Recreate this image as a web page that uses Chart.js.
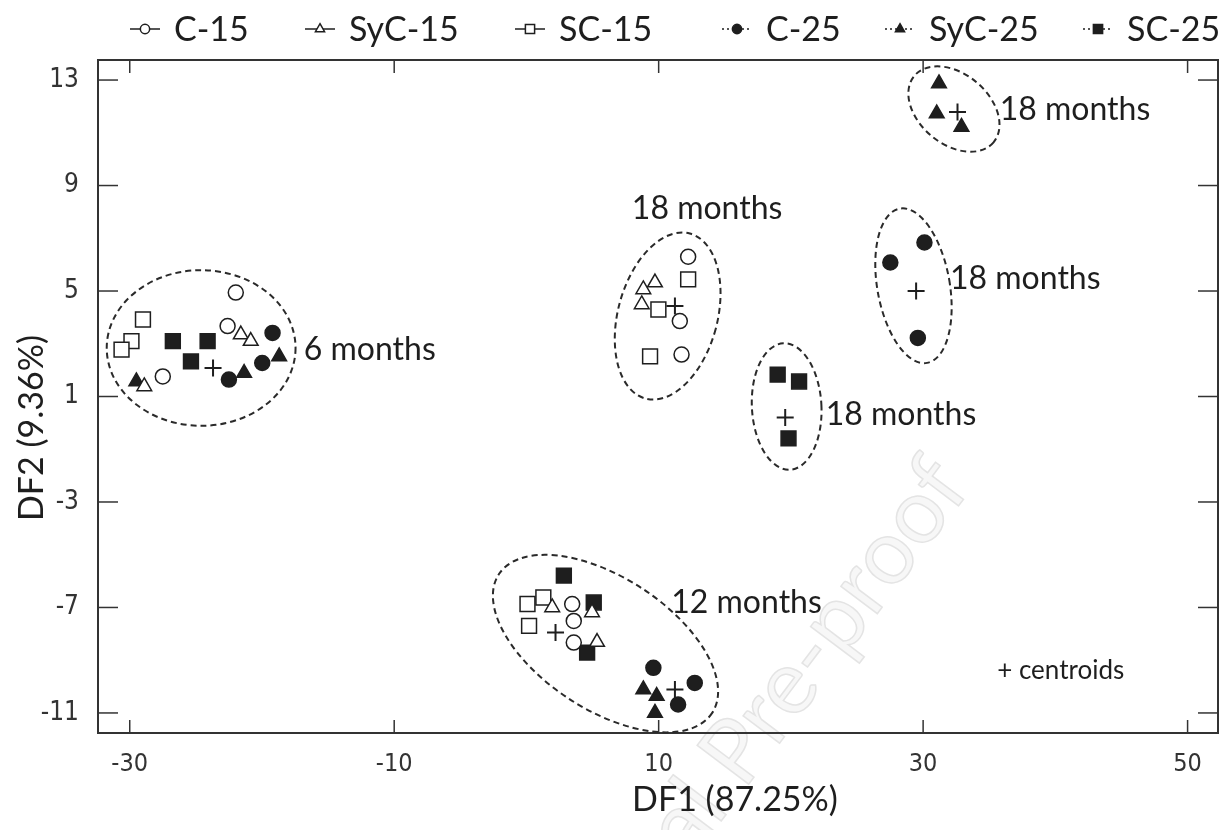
<!DOCTYPE html>
<html>
<head>
<meta charset="utf-8">
<script src="https://cdn.jsdelivr.net/npm/chart.js@4.4.1/dist/chart.umd.min.js"></script>
<style>
  html, body { margin: 0; padding: 0; background: #fff; }
  #wrap { width: 1230px; height: 830px; }
</style>
</head>
<body>
<div id="wrap"><canvas id="c" width="1230" height="830"></canvas></div>
<script>
// ── Datos (DF1, DF2) ────────────────────────────────────────────────
const c15   = [[-21.98, 4.94], [-22.6, 3.67], [-27.5, 1.76],
               [12.23, 6.30], [11.6, 3.86], [11.73, 2.59],
               [3.46, -6.87], [3.58, -7.51], [3.58, -8.33]];
const syc15 = [[-21.6, 3.35], [-20.85, 3.10], [-28.9, 1.38],
               [9.72, 5.32], [8.84, 5.06], [8.72, 4.49],
               [1.95, -7.0], [4.96, -7.19], [5.34, -8.31]];
const sc15  = [[-29.0, 3.92], [-29.87, 3.10], [-30.62, 2.78],
               [12.23, 5.44], [9.98, 4.30], [9.35, 2.52],
               [0.08, -6.87], [1.28, -6.62], [0.20, -7.70]];
const c25   = [[-19.2, 3.41], [-19.98, 2.27], [-22.5, 1.64],
               [9.6, -9.29], [12.73, -9.86], [11.47, -10.68],
               [30.1, 6.84], [27.52, 6.08], [29.6, 3.22]];
const syc25 = [[-29.5, 1.57], [-18.7, 2.52], [-21.35, 1.89],
               [8.84, -10.11], [9.85, -10.36], [9.72, -11.0],
               [31.2, 12.87], [31.03, 11.73], [32.9, 11.22]];
const sc25  = [[-26.74, 3.10], [-24.11, 3.10], [-25.37, 2.33],
               [2.83, -5.79], [5.09, -6.81], [4.59, -8.71],
               [19.0, 1.83], [20.62, 1.57], [19.82, -0.59]];
const centroids = [[-23.7, 2.08], [11.23, 4.43], [2.2, -7.95], [11.23, -10.11],
                   [32.6, 11.79], [29.47, 5.0], [19.57, 0.2]];

const seriesNames = ['C-15', 'SyC-15', 'SC-15', 'C-25', 'SyC-25', 'SC-25'];
const xTicks = [-30, -10, 10, 30, 50];
const yTicks = [-11, -7, -3, 1, 5, 9, 13];

// grupos (elipses) en unidades de datos: centro, radios, giro en grados
const groups = [
  { cx: -24.6, cy: 2.84, rx: 7.14, ry: 2.95, rot: 0 },
  { cx: 10.68, cy: 4.05, rx: 3.76, ry: 3.24, rot: 15 },
  { cx: 5.98, cy: -8.37, rx: 9.62, ry: 2.51, rot: 33 },
  { cx: 32.33, cy: 11.9, rx: 3.91, ry: 1.33, rot: 40 },
  { cx: 29.27, cy: 5.2, rx: 2.74, ry: 2.97, rot: -10 },
  { cx: 19.68, cy: 0.62, rx: 2.63, ry: 2.40, rot: -3 }
];
const groupLabels = [
  { text: '6 months',  x: -16.84, y: 2.79 },
  { text: '18 months', x: 7.97,   y: 8.12 },
  { text: '18 months', x: 35.79,  y: 11.86 },
  { text: '18 months', x: 32.03,  y: 5.46 },
  { text: '18 months', x: 22.63,  y: 0.31 },
  { text: '12 months', x: 10.95,  y: -6.81 }
];
const noteText = { text: '+ centroids', x: 35.6, y: -9.4 };

// ── Estilos ─────────────────────────────────────────────────────────
const INK = '#1e1e1e';
const TXT = "Lato, 'Open Sans', sans-serif";
const TICKFONT = "'Liberation Sans Narrow', 'DejaVu Sans Condensed', 'Liberation Sans', sans-serif";
const styles = [
  { pointStyle: 'circle',   radius: 7.5,  fill: '#fff' },
  { pointStyle: 'triangle', radius: 8.5,  fill: '#fff' },
  { pointStyle: 'rect',     radius: 10.5, fill: '#fff' },
  { pointStyle: 'circle',   radius: 7.5,  fill: INK },
  { pointStyle: 'triangle', radius: 8.5,  fill: INK },
  { pointStyle: 'rect',     radius: 10.5, fill: INK }
];
const legendX = [130, 305, 515, 722, 885, 1083];

const toXY = arr => arr.map(([x, y]) => ({ x, y }));
const allSeries = [c15, syc15, sc15, c25, syc25, sc25];

const datasets = allSeries.map((s, i) => ({
  label: seriesNames[i],
  data: toXY(s),
  pointStyle: styles[i].pointStyle,
  pointRadius: styles[i].radius,
  pointHoverRadius: styles[i].radius,
  pointBackgroundColor: styles[i].fill,
  pointBorderColor: INK,
  pointBorderWidth: 1.5
}));
datasets.push({
  label: 'centroids',
  data: toXY(centroids),
  pointStyle: 'cross',
  pointRadius: 8.5,
  pointHoverRadius: 8.5,
  pointBorderColor: INK,
  pointBorderWidth: 2
});

function seg(ctx, x1, y1, x2, y2) {
  ctx.beginPath(); ctx.moveTo(x1, y1); ctx.lineTo(x2, y2); ctx.stroke();
}

// ── Plugins ─────────────────────────────────────────────────────────
const frame = {
  id: 'frame',
  beforeDatasetsDraw(chart) {
    const { ctx, chartArea: a, scales: { x, y } } = chart;
    ctx.save();
    // marca de agua
    ctx.save();
    ctx.translate(948, 470);
    ctx.rotate(-53 * Math.PI / 180);
    ctx.font = `90px ${TXT}`;
    ctx.textAlign = 'right';
    ctx.textBaseline = 'alphabetic';
    ctx.fillStyle = '#f7f7f7';
    ctx.strokeStyle = '#e4e4e4';
    ctx.lineWidth = 1.5;
    ctx.fillText('Journal Pre-proof', 0, 30);
    ctx.strokeText('Journal Pre-proof', 0, 30);
    ctx.restore();

    ctx.strokeStyle = '#333';
    ctx.lineWidth = 2;
    ctx.strokeRect(a.left, a.top, a.right - a.left, a.bottom - a.top);
    ctx.lineWidth = 1.5;
    xTicks.forEach(v => {
      const px = x.getPixelForValue(v);
      seg(ctx, px, a.bottom, px, a.bottom - 13);
      seg(ctx, px, a.top, px, a.top + 13);
    });
    yTicks.forEach(v => {
      const py = y.getPixelForValue(v);
      seg(ctx, a.left, py, a.left + 20, py);
      seg(ctx, a.right, py, a.right - 20, py);
    });
    ctx.restore();
  }
};

const ellipses = {
  id: 'ellipses',
  beforeDatasetsDraw(chart) {
    const { ctx, scales: { x, y } } = chart;
    const sx = Math.abs(x.getPixelForValue(1) - x.getPixelForValue(0));
    const sy = Math.abs(y.getPixelForValue(1) - y.getPixelForValue(0));
    ctx.save();
    ctx.strokeStyle = '#2a2a2a';
    ctx.lineWidth = 2;
    ctx.setLineDash([6, 4]);
    groups.forEach(g => {
      ctx.beginPath();
      ctx.ellipse(x.getPixelForValue(g.cx), y.getPixelForValue(g.cy),
        g.rx * sx, g.ry * sy, g.rot * Math.PI / 180, 0, Math.PI * 2);
      ctx.stroke();
    });
    ctx.restore();
  }
};

const labels = {
  id: 'labels',
  afterDraw(chart) {
    const { ctx, scales: { x, y } } = chart;
    ctx.save();
    ctx.fillStyle = INK;
    ctx.textAlign = 'left';
    ctx.textBaseline = 'middle';
    ctx.font = `32px ${TXT}`;
    groupLabels.forEach(l => ctx.fillText(l.text, x.getPixelForValue(l.x), y.getPixelForValue(l.y)));
    ctx.font = `26px ${TXT}`;
    ctx.fillText(noteText.text, x.getPixelForValue(noteText.x), y.getPixelForValue(noteText.y));

    // títulos de ejes
    ctx.font = `34px ${TXT}`;
    ctx.textAlign = 'center';
    ctx.fillText('DF1 (87.25%)', 735, 800);
    ctx.translate(32, 428);
    ctx.rotate(-Math.PI / 2);
    ctx.fillText('DF2 (9.36%)', 0, 0);
    ctx.restore();
  }
};

const topLegend = {
  id: 'topLegend',
  afterDraw(chart) {
    const ctx = chart.ctx;
    const cy = 29;
    ctx.save();
    seriesNames.forEach((name, i) => {
      const x0 = legendX[i];
      ctx.strokeStyle = INK;
      ctx.lineWidth = 1.5;
      ctx.setLineDash(i < 3 ? [] : [2, 3]);
      seg(ctx, x0, cy, x0 + 30, cy);
      ctx.setLineDash([]);
      ctx.fillStyle = styles[i].fill;
      Chart.helpers.drawPoint(ctx, {
        pointStyle: styles[i].pointStyle,
        radius: styles[i].radius * 0.62,
        borderWidth: 1.5,
        rotation: 0
      }, x0 + 15, cy);
      ctx.fillStyle = INK;
      ctx.font = `34px ${TXT}`;
      ctx.textAlign = 'left';
      ctx.textBaseline = 'middle';
      ctx.fillText(name, x0 + 44, cy + 1);
    });
    ctx.restore();
  }
};

// ── Gráfico ─────────────────────────────────────────────────────────
new Chart(document.getElementById('c'), {
  type: 'scatter',
  data: { datasets },
  options: {
    responsive: false,
    animation: false,
    events: [],
    layout: { padding: { top: 60, right: 4, left: 0, bottom: 0 } },
    plugins: { legend: { display: false }, tooltip: { enabled: false } },
    scales: {
      x: {
        type: 'linear', min: -32.4, max: 52.3,
        grid: { display: false, drawTicks: false },
        border: { display: false },
        afterBuildTicks: s => { s.ticks = xTicks.map(v => ({ value: v })); },
        afterFit: s => { s.height = 97; },
        ticks: { color: '#333', padding: 16, font: { family: TICKFONT, size: 25 } }
      },
      y: {
        type: 'linear', min: -11.76, max: 13.76,
        grid: { display: false, drawTicks: false },
        border: { display: false },
        afterBuildTicks: s => { s.ticks = yTicks.map(v => ({ value: v })); },
        afterFit: s => { s.width = 98; },
        ticks: { color: '#333', padding: 19, font: { family: TICKFONT, size: 26 } }
      }
    }
  },
  plugins: [frame, ellipses, labels, topLegend]
});
</script>
</body>
</html>
